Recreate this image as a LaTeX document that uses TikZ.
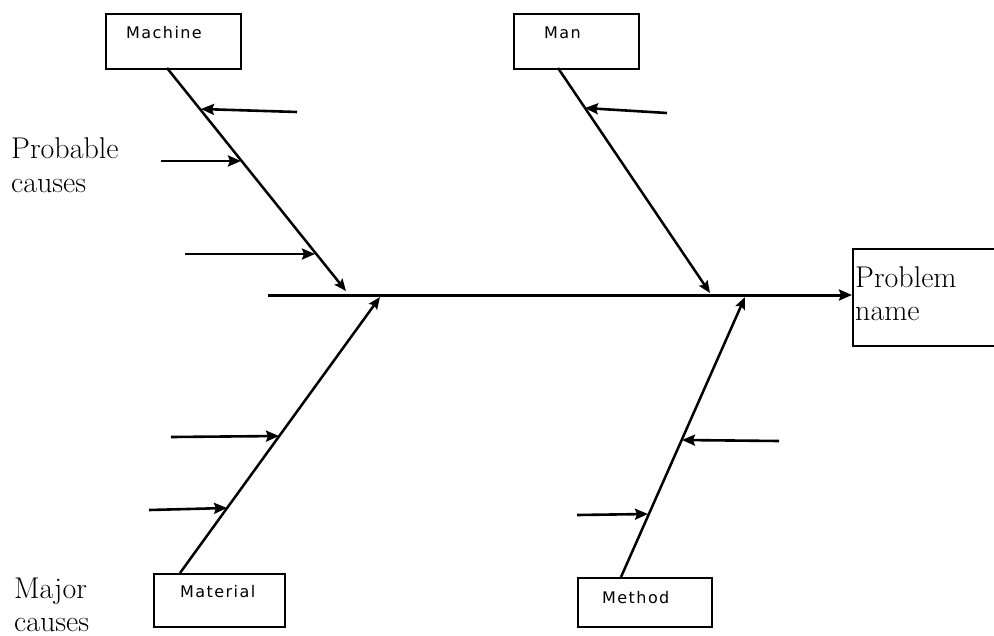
\documentclass[tikz,border=0pt]{standalone}
\usepackage{fontspec}
\newfontfamily\boxfont[LetterSpace=9]{DejaVu Sans}
\usetikzlibrary{arrows.meta}
\tikzset{
  box/.style={draw, line width=1.6pt, rectangle, anchor=north west, inner sep=0pt},
  boxtext/.style={anchor=base west, inner sep=0pt, font=\boxfont\fontsize{16}{19}\selectfont},
  bigtext/.style={anchor=base west, inner sep=0pt, font=\fontsize{30}{36}\selectfont},
  bone/.style={line width=2.5pt, -{Stealth[length=12pt,width=10pt,inset=2pt]}},
  spine/.style={line width=3pt, -{Stealth[length=13pt,width=11pt,inset=2pt]}},
  twig/.style={line width=2.6pt, -{Stealth[length=13pt,width=11pt,inset=2pt]}}
}
\begin{document}
\begin{tikzpicture}[x=1pt,y=-1pt]
\useasboundingbox (0,0) rectangle (994,635);
% boxes
\node[box, minimum width=135pt, minimum height=55pt] (machine) at (105,13) {};
\node[box, minimum width=125pt, minimum height=55pt] (man) at (513,13) {};
\node[box, minimum width=131pt, minimum height=53pt] (material) at (153,573) {};
\node[box, minimum width=134pt, minimum height=49pt] (method) at (577,577) {};
\node[box, minimum width=160pt, minimum height=97pt] (problem) at (852,248) {};
% box texts
\node[boxtext] (tmachine) at (126,38) {Machine};
\node[boxtext] (tman) at (544,38) {Man};
\node[boxtext] (tmaterial) at (180,597) {Material};
\node[boxtext] (tmethod) at (602,603) {Method};
% big texts
\node[bigtext] (tproblem) at (855,287) {Problem};
\node[bigtext] (tname) at (855,320) {name};
\node[bigtext] (tprob) at (11,158) {Probable};
\node[bigtext] (tcauses) at (11,192) {causes};
\node[bigtext] (tmajor) at (14,598) {Major};
\node[bigtext] (tmcauses) at (14,631) {causes};
% spine
\coordinate (spstart) at (268,295);
\draw[spine] (spstart) -- (problem.west |- spstart);
% bone coordinates
\coordinate (mab) at (167,68);
\coordinate (mat) at (346,291);
\coordinate (mnb) at (558,68);
\coordinate (mnt) at (710,293);
\coordinate (mlb) at (180,573);
\coordinate (mlt) at (380,297);
\coordinate (mtb) at (621,577);
\coordinate (mtt) at (745,297);
\draw[bone] (mab) -- (mat);
\draw[bone] (mnb) -- (mnt);
\draw[bone] (mlb) -- (mlt);
\draw[bone] (mtb) -- (mtt);
% twigs
\coordinate (a1s) at (297,112); \coordinate (a1e) at (201,109);
\coordinate (a2s) at (161,161); \coordinate (a2e) at (241,161);
\coordinate (a3s) at (185,254); \coordinate (a3e) at (315,254);
\coordinate (a4s) at (667,113); \coordinate (a4e) at (585,108);
\coordinate (a5s) at (171,437); \coordinate (a5e) at (279,436);
\coordinate (a6s) at (149,510); \coordinate (a6e) at (227,508);
\coordinate (a7s) at (779,441); \coordinate (a7e) at (682,440);
\coordinate (a8s) at (577,515); \coordinate (a8e) at (648,514);
\foreach \i in {1,...,8} {\draw[twig] (a\i s) -- (a\i e);}
\end{tikzpicture}
\end{document}
